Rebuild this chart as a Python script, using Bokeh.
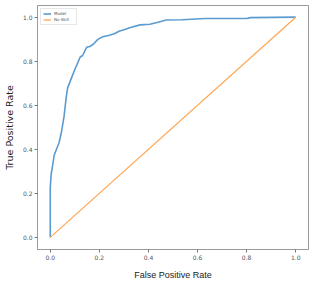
from bokeh.plotting import figure
from bokeh.models import Range1d, Legend, LegendItem, FixedTicker
from bokeh.embed import file_html
from bokeh.resources import INLINE

# ROC curve of the model
fpr = [0.0, 0.0, 0.004, 0.008, 0.016, 0.036, 0.045, 0.056, 0.065, 0.071, 0.089,
       0.102, 0.108, 0.122, 0.132, 0.148, 0.161, 0.175, 0.194, 0.214, 0.241,
       0.261, 0.28, 0.30, 0.327, 0.366, 0.406, 0.439, 0.472, 0.538, 0.631,
       0.80, 0.816, 1.0]
tpr = [0.0, 0.227, 0.29, 0.314, 0.373, 0.431, 0.475, 0.548, 0.636, 0.68, 0.731,
       0.768, 0.782, 0.819, 0.826, 0.863, 0.867, 0.877, 0.899, 0.911, 0.918,
       0.925, 0.936, 0.943, 0.953, 0.965, 0.968, 0.977, 0.987, 0.988, 0.994,
       0.994, 0.998, 1.0]

# No-skill diagonal
ns_fpr = [0.0, 1.0]
ns_tpr = [0.0, 1.0]

ticks = [0.0, 0.2, 0.4, 0.6, 0.8, 1.0]
tick_labels = {0.0: "0.0", 0.2: "0.2", 0.4: "0.4", 0.6: "0.6", 0.8: "0.8", 1.0: "1.0"}

p = figure(width=315, height=282, output_backend="svg", toolbar_location=None,
           x_range=Range1d(-0.052, 1.052), y_range=Range1d(-0.055, 1.053),
           min_border_left=37, min_border_right=7, min_border_top=5, min_border_bottom=31)

p.grid.visible = False
p.outline_line_color = "#9a9a9a"
p.outline_line_width = 1
p.background_fill_color = "white"
p.border_fill_color = "white"

for ax in (p.xaxis[0], p.yaxis[0]):
    ax.ticker = FixedTicker(ticks=ticks)
    ax.major_label_overrides = tick_labels
    ax.axis_line_color = "#9a9a9a"
    ax.major_tick_line_color = "#777777"
    ax.minor_tick_line_color = None
    ax.major_tick_in = 0
    ax.major_tick_out = 3
    ax.major_label_text_font = "DejaVu Sans"
    ax.major_label_text_font_size = "6px"
    ax.major_label_text_color = "#555555"
    ax.major_label_standoff = 2
    ax.axis_label_text_font_style = "normal"
    ax.axis_label_text_color = "#222222"

p.xaxis.axis_label = "False Positive Rate"
p.xaxis.axis_label_text_font = "Liberation Sans"
p.xaxis.axis_label_text_font_size = "9px"
p.xaxis.axis_label_standoff = 7

p.yaxis.axis_label = "True Positive Rate"
p.yaxis.axis_label_text_font = "DejaVu Sans"
p.yaxis.axis_label_text_font_size = "9.5px"
p.yaxis.axis_label_standoff = 5

r_model = p.line(fpr, tpr, line_color="#5b9bd0", line_width=1.6)
r_ns = p.line(ns_fpr, ns_tpr, line_color="#ffa757", line_width=1.3)

legend = Legend(items=[LegendItem(label="Model", renderers=[r_model]),
                       LegendItem(label="No Skill", renderers=[r_ns])],
                location="top_left")
legend.label_text_font = "DejaVu Sans"
legend.label_text_font_size = "4px"
legend.label_text_color = "#555555"
legend.label_height = 5
legend.label_standoff = 3
legend.glyph_width = 8
legend.glyph_height = 5
legend.spacing = 1
legend.padding = 2
legend.margin = 3
legend.border_line_color = "#d0d0d0"
legend.border_line_width = 1
legend.background_fill_alpha = 1.0
p.add_layout(legend)

open("out.html", "w").write(file_html(p, INLINE))
